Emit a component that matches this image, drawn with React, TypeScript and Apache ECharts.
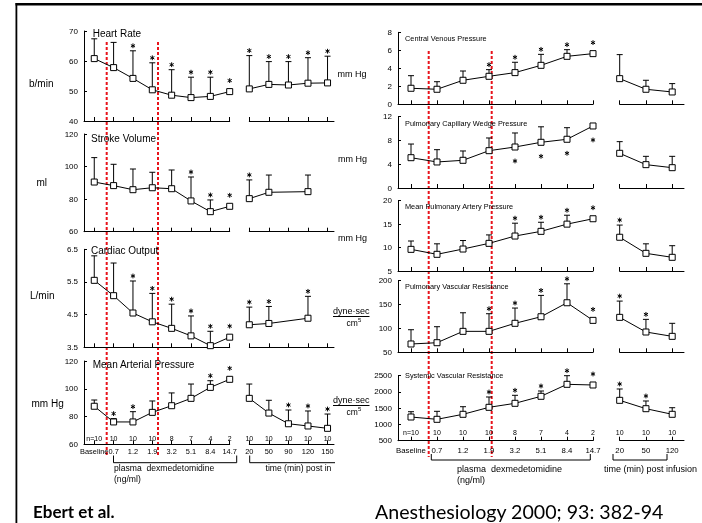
import React, { useEffect, useRef } from "react";
import * as echarts from "echarts";

// ---------- categories / tick labels ----------
const doseLabels = ["Baseline", "0.7", "1.2", "1.9", "3.2", "5.1", "8.4", "14.7"];
const postLabelsLeft = ["20", "50", "90", "120", "150"];
const postLabelsRight = ["20", "50", "120"];
const doseN = ["n=10", "10", "10", "10", "8", "7", "4", "2"];
const postNLeft = ["10", "10", "10", "10", "10"];
const postNRight = ["10", "10", "10"];

// ---------- Heart Rate (b/min) ----------
const hrDoseMean = [60.8, 57.8, 54.2, 50.4, 48.6, 47.8, 48.2, 49.8];
const hrDoseUpper = [67.4, 66.2, 63.4, 59.4, 57.1, 54.6, 54.6, null];
const hrDoseSig = [0, 0, 1, 1, 1, 1, 1, 1];
const hrPostMean = [50.7, 52.2, 52.0, 52.6, 52.7];
const hrPostUpper = [61.8, 59.8, 59.8, 61.1, 61.6];
const hrPostSig = [1, 1, 1, 1, 1];

// ---------- Stroke Volume (ml) ----------
const svDoseMean = [90.5, 88.3, 85.8, 87.0, 86.4, 78.9, 72.3, 75.6];
const svDoseUpper = [105.5, 101.4, 98.5, 96.5, 97.9, 93.6, 79.5, null];
const svDoseSig = [0, 0, 0, 0, 0, 1, 1, 1];
const svPostMean = [80.3, 84.2, null, 84.6, null];
const svPostUpper = [91.8, 94.8, null, 94.8, null];
const svPostSig = [1, 0, 0, 0, 0];

// ---------- Cardiac Output (L/min) ----------
const coDoseMean = [5.55, 5.08, 4.55, 4.28, 4.08, 3.85, 3.55, 3.81];
const coDoseUpper = [6.3, 6.08, 5.53, 5.15, 4.82, 4.46, 3.99, null];
const coDoseSig = [0, 0, 1, 1, 1, 1, 1, 1];
const coPostMean = [4.19, 4.23, null, 4.39, null];
const coPostUpper = [4.73, 4.75, null, 5.06, null];
const coPostSig = [1, 1, 0, 1, 0];

// ---------- Mean Arterial Pressure (mm Hg) ----------
const mapDoseMean = [87.4, 76.1, 76.1, 83.0, 87.8, 93.1, 101.0, 106.8];
const mapDoseUpper = [91.9, 78.5, 83.5, 91.2, 97.0, 103.4, 105.8, null];
const mapDoseSig = [0, 1, 1, 0, 0, 0, 1, 1];
const mapPostMean = [93.1, 82.5, 74.8, 73.2, 71.5];
const mapPostUpper = [103.4, 91.7, 84.7, 84.0, 81.8];
const mapPostSig = [0, 0, 1, 1, 1];

// ---------- Central Venous Pressure (mm Hg) ----------
const cvpDoseMean = [1.78, 1.67, 2.67, 3.11, 3.52, 4.33, 5.33, 5.63];
const cvpDoseUpper = [3.18, 2.51, 3.7, 3.85, 4.67, 5.55, 6.07, null];
const cvpDoseSig = [0, 0, 0, 1, 1, 1, 1, 1];
const cvpPostMean = [2.85, 1.67, 1.37];
const cvpPostUpper = [5.52, 2.67, 2.3];
const cvpPostSig = [0, 0, 0];

// ---------- Pulmonary Capillary Wedge Pressure (mm Hg) ----------
const pcwpDoseMean = [5.1, 4.38, 4.66, 6.28, 6.9, 7.69, 8.2, 10.44];
const pcwpDoseUpper = [7.4, 6.45, 6.23, 8.42, 9.26, 10.3, 10.15, null];
const pcwpDoseSig = [0, 0, 0, 0, 1, 1, 1, 1];
const pcwpPostMean = [5.84, 3.93, 3.42];
const pcwpPostUpper = [7.8, 5.33, 5.33];
const pcwpPostSig = [0, 0, 0];

// ---------- Mean Pulmonary Artery Pressure (mm Hg) ----------
const mpapDoseMean = [9.62, 8.56, 9.69, 10.9, 12.46, 13.46, 15.0, 16.15];
const mpapDoseUpper = [11.4, 10.8, 11.5, 12.7, 15.2, 15.4, 16.9, null];
const mpapDoseSig = [0, 0, 0, 0, 1, 1, 1, 1];
const mpapPostMean = [12.2, 8.77, 7.92];
const mpapPostUpper = [14.8, 10.8, 10.4];
const mpapPostSig = [1, 0, 0];

// ---------- Pulmonary Vascular Resistance (dyne·sec/cm5) ----------
const pvrDoseMean = [67.4, 70.1, 93.9, 93.9, 110.7, 124.5, 153.8, 116.9];
const pvrDoseUpper = [97.3, 103.6, 132.8, 130.8, 142.7, 169.2, 193.5, null];
const pvrDoseSig = [0, 0, 0, 1, 1, 1, 1, 1];
const pvrPostMean = [123.2, 92.5, 83.4];
const pvrPostUpper = [157.3, 119, 110.7];
const pvrPostSig = [1, 1, 0];

// ---------- Systemic Vascular Resistance (dyne·sec/cm5) ----------
const svrDoseMean = [1229, 1158, 1312, 1527, 1650, 1866, 2235, 2214];
const svrDoseUpper = [1392, 1404, 1546, 1845, 1897, 2029, 2500, null];
const svrDoseSig = [0, 0, 0, 1, 1, 1, 1, 1];
const svrPostMean = [1742, 1485, 1312];
const svrPostUpper = [2091, 1722, 1515];
const svrPostSig = [1, 1, 0];

// ---------- layout / style ----------
const FONT = "'Liberation Sans', Arial, Helvetica, sans-serif";
const FOOT_FONT = "Lato, 'Open Sans', sans-serif";
const INK = "#000";
const RED = "#e8131b";

const COLS: any = {
  L: {
    dose: { left: 84, width: 145.7, min: -0.53, max: 7 },
    post: { left: 249.3, width: 84.7, min: 0, max: 4.33 },
    postLabels: postLabelsLeft,
    postN: postNLeft,
    nDist: 2.2,
    labelMargin: 3.7,
    labelSize: 7.4,
  },
  R: {
    dose: { left: 398, width: 195, min: -0.5, max: 7 },
    post: { left: 619.7, width: 64.3, min: 0, max: 2.45 },
    postLabels: postLabelsRight,
    postN: postNRight,
    nDist: 4.5,
    labelMargin: 5.3,
    labelSize: 7.8,
  },
};

const panels: any[] = [
  { col: "L", top: 31, height: 90, min: 40, max: 70, interval: 10,
    dose: [hrDoseMean, hrDoseUpper, hrDoseSig], post: [hrPostMean, hrPostUpper, hrPostSig] },
  { col: "L", top: 134, height: 97.7, min: 60, max: 120, interval: 20,
    dose: [svDoseMean, svDoseUpper, svDoseSig], post: [svPostMean, svPostUpper, svPostSig] },
  { col: "L", top: 249.3, height: 98, min: 3.5, max: 6.5, interval: 1,
    dose: [coDoseMean, coDoseUpper, coDoseSig], post: [coPostMean, coPostUpper, coPostSig] },
  { col: "L", top: 361, height: 83.3, min: 60, max: 120, interval: 20, bottom: true,
    dose: [mapDoseMean, mapDoseUpper, mapDoseSig], post: [mapPostMean, mapPostUpper, mapPostSig] },
  { col: "R", top: 32.3, height: 72, min: 0, max: 8, interval: 2,
    dose: [cvpDoseMean, cvpDoseUpper, cvpDoseSig], post: [cvpPostMean, cvpPostUpper, cvpPostSig] },
  { col: "R", top: 116.7, height: 71.3, min: 0, max: 12, interval: 4, below: true,
    dose: [pcwpDoseMean, pcwpDoseUpper, pcwpDoseSig], post: [pcwpPostMean, pcwpPostUpper, pcwpPostSig] },
  { col: "R", top: 200.7, height: 70.3, min: 5, max: 20, interval: 5,
    dose: [mpapDoseMean, mpapDoseUpper, mpapDoseSig], post: [mpapPostMean, mpapPostUpper, mpapPostSig] },
  { col: "R", top: 280.7, height: 71.6, min: 50, max: 200, interval: 50,
    dose: [pvrDoseMean, pvrDoseUpper, pvrDoseSig], post: [pvrPostMean, pvrPostUpper, pvrPostSig] },
  { col: "R", top: 375.7, height: 65, min: 500, max: 2500, interval: 500, bottom: true,
    dose: [svrDoseMean, svrDoseUpper, svrDoseSig], post: [svrPostMean, svrPostUpper, svrPostSig] },
];

const range = (n: number) => Array.from({ length: n }, (_, i) => i);

function txt(text: string, x: number, y: number, size: number, extra: any = {}, el: any = {}) {
  return {
    type: "text",
    x,
    y,
    silent: true,
    ...el,
    style: { text, x: 0, y: 0, fontSize: size, fontFamily: FONT, fill: INK, verticalAlign: "middle", ...extra },
  };
}
function ln(x1: number, y1: number, x2: number, y2: number, style: any = {}) {
  return { type: "line", silent: true, shape: { x1, y1, x2, y2 }, style: { stroke: INK, lineWidth: 1, ...style } };
}
function poly(points: number[][]) {
  return { type: "polyline", silent: true, shape: { points }, style: { stroke: INK, lineWidth: 1, fill: null } };
}

// small six-armed asterisk drawn with strokes
function asterisk(cx: number, cy: number, r: number) {
  const arms: any[] = [];
  for (let k = 0; k < 3; k++) {
    const a = (Math.PI / 3) * k + Math.PI / 2;
    const dx = Math.cos(a) * r;
    const dy = Math.sin(a) * r;
    arms.push({ type: "line", shape: { x1: cx - dx, y1: cy - dy, x2: cx + dx, y2: cy + dy }, style: { stroke: INK, lineWidth: 1, fill: null } });
  }
  return arms;
}

function buildOption() {
  const grid: any[] = [];
  const xAxis: any[] = [];
  const yAxis: any[] = [];
  const series: any[] = [];

  panels.forEach((p) => {
    const C = COLS[p.col];
    (["dose", "post"] as const).forEach((g) => {
      const idx = grid.length;
      const G = C[g];
      const labels: string[] = g === "dose" ? doseLabels : C.postLabels;
      const nLabels: string[] = g === "dose" ? doseN : C.postN;
      const [mean, upper, sig] = p[g];
      grid.push({ left: G.left, top: p.top, width: G.width, height: p.height, containLabel: false });
      xAxis.push({
        type: "value",
        gridIndex: idx,
        min: G.min,
        max: G.max,
        axisLine: { show: true, onZero: false, lineStyle: { color: INK, width: 1 } },
        axisTick: { show: true, inside: true, length: 4, customValues: range(labels.length), lineStyle: { color: INK } },
        axisLabel: {
          show: !!p.bottom,
          customValues: range(labels.length),
          formatter: (v: number) => labels[Math.round(v)] ?? "",
          fontSize: C.labelSize,
          margin: C.labelMargin,
          color: INK,
          fontFamily: FONT,
          hideOverlap: false,
        },
        splitLine: { show: false },
      });
      yAxis.push({
        type: "value",
        gridIndex: idx,
        min: p.min,
        max: p.max,
        interval: p.interval,
        show: g === "dose",
        axisLine: { show: true, onZero: false, lineStyle: { color: INK, width: 1 } },
        axisTick: { show: true, inside: true, length: 3, lineStyle: { color: INK } },
        axisLabel: { fontSize: 8, margin: 6, color: INK, fontFamily: FONT, formatter: (v: number) => String(v) },
        splitLine: { show: false },
      });

      const pts: any[] = [];
      mean.forEach((v: number | null, i: number) => {
        if (v != null) pts.push([i, v, upper[i] != null ? upper[i] : v, sig[i]]);
      });

      // error bars + significance stars
      series.push({
        type: "custom",
        xAxisIndex: idx,
        yAxisIndex: idx,
        data: pts,
        encode: { x: 0, y: 1 },
        color: INK,
        itemStyle: { color: INK },
        clip: false,
        silent: true,
        z: 3,
        renderItem: (_params: any, api: any) => {
          const x = api.value(0);
          const m = api.value(1);
          const u = api.value(2);
          const s = api.value(3);
          const pm = api.coord([x, m]);
          const pu = api.coord([x, u]);
          const children: any[] = [];
          const hasBar = u > m;
          if (hasBar) {
            children.push({ type: "line", shape: { x1: pm[0], y1: pm[1], x2: pu[0], y2: pu[1] }, style: { stroke: INK, lineWidth: 1, fill: null } });
            children.push({ type: "line", shape: { x1: pu[0] - 3, y1: pu[1], x2: pu[0] + 3, y2: pu[1] }, style: { stroke: INK, lineWidth: 1, fill: null } });
          }
          if (s) {
            const sy = p.below ? pm[1] + 14 : hasBar ? pu[1] - 5 : pm[1] - 11;
            children.push(...asterisk(pm[0], sy, 2.4));
          }
          return { type: "group", children };
        },
      });

      // mean line with open squares
      series.push({
        type: "line",
        xAxisIndex: idx,
        yAxisIndex: idx,
        data: pts.map((d) => [d[0], d[1]]),
        color: INK,
        symbol: "rect",
        symbolSize: 6,
        showSymbol: true,
        itemStyle: { color: "#fff", borderColor: INK, borderWidth: 1 },
        lineStyle: { color: INK, width: 1 },
        silent: true,
        z: 5,
      });

      // n per group
      if (p.bottom) {
        series.push({
          type: "scatter",
          xAxisIndex: idx,
          yAxisIndex: idx,
          color: INK,
          symbolSize: 1,
          itemStyle: { color: INK, opacity: 0 },
          data: nLabels.map((n, i) => ({ name: n, value: [i, p.min] })),
          label: {
            show: true,
            position: "top",
            distance: C.nDist,
            formatter: (q: any) => q.name,
            fontSize: 7,
            color: INK,
            opacity: 1,
            fontFamily: FONT,
          },
          silent: true,
          z: 6,
        });
      }
    });
  });

  const graphic: any[] = [
    // frame
    { type: "rect", silent: true, shape: { x: 15.5, y: 3, width: 687, height: 2.5 }, style: { fill: "#000" } },
    { type: "rect", silent: true, shape: { x: 15.5, y: 3, width: 1.8, height: 520 }, style: { fill: "#000" } },

    // red dashed dose-range markers
    ln(106.7, 42, 106.7, 457, { stroke: RED, lineWidth: 2, lineDash: [3, 2] }),
    ln(158, 42, 158, 457, { stroke: RED, lineWidth: 2, lineDash: [3, 2] }),
    ln(428.7, 51, 428.7, 457, { stroke: RED, lineWidth: 2, lineDash: [3, 2] }),
    ln(491.7, 51, 491.7, 457, { stroke: RED, lineWidth: 2, lineDash: [3, 2] }),

    // left column titles
    txt("Heart Rate", 92.7, 33, 10),
    txt("Stroke Volume", 91, 138, 10),
    txt("Cardiac Output", 91, 250.5, 10),
    txt("Mean Arterial Pressure", 92.7, 364.5, 10),

    // right column titles
    txt("Central Venous Pressure", 405, 38.5, 8, {}, { scaleX: 0.92 }),
    txt("Pulmonary Capillary Wedge Pressure", 405, 123.3, 8, {}, { scaleX: 0.92 }),
    txt("Mean Pulmonary Artery Pressure", 405, 206, 8, {}, { scaleX: 0.92 }),
    txt("Pulmonary Vascular Resistance", 405, 286.7, 8, {}, { scaleX: 0.92 }),
    txt("Systemic Vascular Resistance", 405, 375.5, 8, {}, { scaleX: 0.92 }),

    // left column units
    txt("b/min", 29, 83.5, 10),
    txt("ml", 36.5, 182, 10),
    txt("L/min", 30, 295, 10),
    txt("mm Hg", 31.5, 403.5, 10),

    // right column units
    txt("mm Hg", 337.5, 74, 9),
    txt("mm Hg", 338, 159, 9),
    txt("mm Hg", 338, 238, 9),
    txt("dyne·sec", 333, 311, 9),
    ln(333, 316.5, 369.5, 316.5),
    txt("cm", 346.5, 322.5, 8.5),
    txt("5", 358, 320, 6),
    txt("dyne·sec", 333, 400, 9),
    ln(333, 405.5, 369.5, 405.5),
    txt("cm", 346.5, 411.5, 8.5),
    txt("5", 358, 409, 6),

    // brackets + group captions (left)
    poly([[113.5, 455.5], [113.5, 462.7], [236.7, 462.7], [236.7, 455.5]]),
    poly([[249.7, 455.5], [249.7, 462.7], [335, 462.7]]),
    txt("plasma  dexmedetomidine", 114, 468, 8.6),
    txt("(ng/ml)", 114, 478.5, 8.6),
    txt("time (min) post infusion", 265.5, 468, 8.6, { width: 69, overflow: "truncate", ellipsis: "" }),

    // brackets + group captions (right)
    poly([[431.3, 454], [431.3, 460], [590.3, 460], [590.3, 454]]),
    poly([[613, 454], [613, 460], [667, 460], [667, 454]]),
    txt("plasma  dexmedetomidine", 457, 469, 9),
    txt("(ng/ml)", 457, 480, 9),
    txt("time (min) post infusion", 604, 469, 9),

    // footer
    txt("Ebert et al.", 33, 511, 17, { fontFamily: FOOT_FONT, fontWeight: "bold", fill: "#000" }),
    txt("Anesthesiology 2000; 93: 382-94", 375, 511, 19.6, { fontFamily: FOOT_FONT, fill: "#000" }),
  ];

  return {
    animation: false,
    backgroundColor: "#fff",
    color: [INK],
    textStyle: { fontFamily: FONT, color: INK },
    grid,
    xAxis,
    yAxis,
    series,
    graphic: { elements: graphic },
  };
}

export default function App() {
  const ref = useRef<HTMLDivElement>(null);
  useEffect(() => {
    if (!ref.current) return;
    const chart = echarts.init(ref.current, null, { renderer: "svg" });
    chart.setOption(buildOption() as any);
    return () => chart.dispose();
  }, []);
  return (
    <div
      ref={ref}
      style={{ position: "absolute", left: 0, top: 0, width: 702, height: 523, willChange: "transform" }}
    />
  );
}
